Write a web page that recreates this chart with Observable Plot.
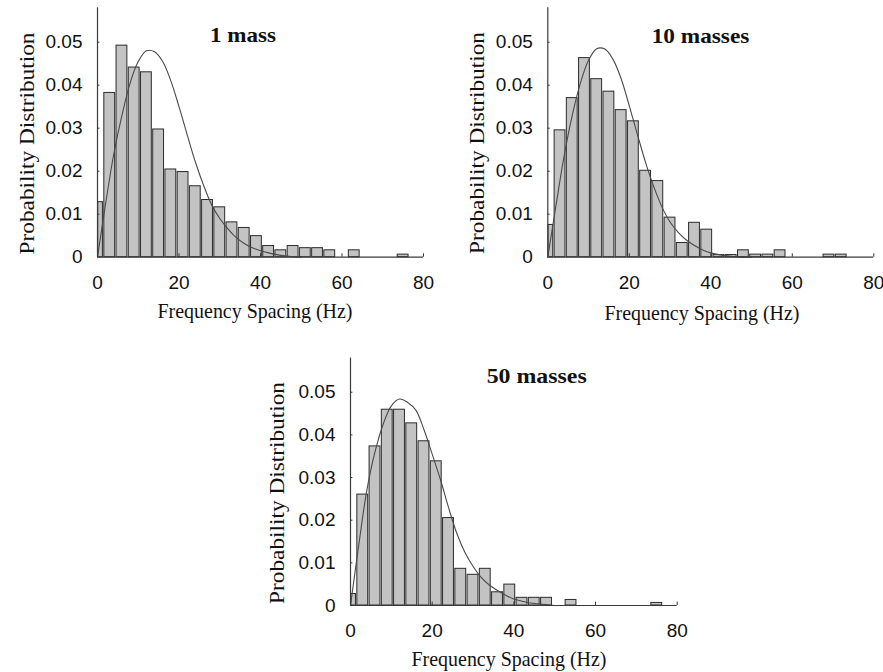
<!DOCTYPE html>
<html>
<head>
<meta charset="utf-8">
<script src="https://cdn.jsdelivr.net/npm/d3@7"></script>
<script src="https://cdn.jsdelivr.net/npm/@observablehq/plot@0.6"></script>
<style>
  html, body { margin: 0; padding: 0; background: #fff; }
  #wrap { position: relative; width: 883px; height: 672px; overflow: hidden; background: #fff; }
  .panel { position: absolute; }
  #overlay { position: absolute; left: 0; top: 0; pointer-events: none; }
</style>
</head>
<body>
<div id="wrap"></div>
<script>
// Bin centres (Hz), bin width 3 Hz
const binCenters = [0,3,6,9,12,15,18,21,24,27,30,33,36,39,42,45,48,51,54,57,60,63,66,69,72,75];

// Histogram probabilities per panel
const mass1 =   [0.0128,0.0382,0.0492,0.0441,0.0430,0.0297,0.0204,0.0198,0.0165,0.0133,0.0116,0.0081,0.0068,0.0049,0.0026,0.0016,0.0026,0.0021,0.0021,0.0016,0,0.0016,0,0,0,0.0006];
const masses10 = [0.0075,0.0295,0.0370,0.0463,0.0414,0.0385,0.0342,0.0316,0.0201,0.0177,0.0092,0.0033,0.0080,0.0064,0.0005,0.0005,0.0016,0.0006,0.0006,0.0016,0,0,0,0.0006,0.0006,0];
const masses50 = [0.0027,0.0260,0.0373,0.0459,0.0459,0.0427,0.0385,0.0338,0.0205,0.0086,0.0072,0.0086,0.0031,0.0049,0.0018,0.0018,0.0018,0,0.0013,0,0,0,0,0,0,0.0006];

// Fitted curve
const curveX = [0,2,4,6,8,10,12,14,16,18,20,22,24,26,28,30,32,34,36,38,40,42,44,46,48,50];
const curve1 =  [0,0.0125,0.0240,0.0330,0.0405,0.0455,0.0480,0.0478,0.0455,0.0410,0.0350,0.0285,0.0222,0.0168,0.0122,0.0090,0.0066,0.0046,0.0032,0.0022,0.0015,0.0010,0.0006,0.0003,0.0001,0];
const curve10 = [0,0.0120,0.0235,0.0330,0.0405,0.0458,0.0485,0.0484,0.0460,0.0415,0.0352,0.0285,0.0220,0.0164,0.0117,0.0082,0.0058,0.0040,0.0027,0.0017,0.0010,0.0006,0.0003,0.0001,0,0];
const curve50 = [0,0.0140,0.0270,0.0360,0.0425,0.0468,0.0484,0.0476,0.0458,0.0412,0.0355,0.0296,0.0230,0.0170,0.0125,0.0092,0.0066,0.0048,0.0035,0.0024,0.0015,0.0010,0.0006,0.0004,0.0002,0];

const panelTitles = ["1 mass", "10 masses", "50 masses"];
const xLabel = "Frequency Spacing (Hz)";
const yLabel = "Probability Distribution";
const xTicks = [0,20,40,60,80];
const yTicks = [0,0.01,0.02,0.03,0.04,0.05];
const binWidth = 3;

const sans = "'Liberation Sans', Arial, sans-serif";
const serif = "'Liberation Serif', 'Times New Roman', serif";

function panel(values, curve, box) {
  const bins = binCenters.map((c, i) => ({x1: Math.max(0, c - binWidth/2), x2: c + binWidth/2, y: values[i]})).filter(d => d.y > 0);
  const line = curveX.map((x, i) => ({x, y: curve[i]}));
  return Plot.plot({
    width: box.width,
    height: box.height,
    marginLeft: box.ml,
    marginRight: box.mr,
    marginTop: box.mt,
    marginBottom: box.mb,
    style: {fontFamily: sans, fontSize: "19px", color: "#111", background: "transparent", overflow: "visible"},
    x: {domain: [0, 80]},
    y: {domain: [0, 0.058]},
    marks: [
      Plot.rectY(bins, {x1: "x1", x2: "x2", y: "y", fill: "#c3c3c3", stroke: "#2b2b2b", strokeWidth: 1, insetLeft: 0.7, insetRight: 0.7}),
      Plot.line(line, {x: "x", y: "y", stroke: "#4a4a4a", strokeWidth: 1.1, curve: "catmull-rom"}),
      Plot.ruleX([0], {y1: 0, y2: 0.058, stroke: "#3a3a3a", strokeWidth: 1.2}),
      Plot.ruleY([0], {x1: 0, x2: 80, stroke: "#3a3a3a", strokeWidth: 1.2}),
      Plot.ruleY(yTicks.slice(1), {x1: 0, x2: 0.6, stroke: "#3a3a3a"}),
      Plot.ruleX(xTicks.slice(1), {y1: 0, y2: 0.0008, stroke: "#3a3a3a"}),
      Plot.axisY({ticks: yTicks, tickSize: 0, tickPadding: 15, label: null, tickFormat: d => d === 0 ? "0" : d.toFixed(2)}),
      Plot.axisX({ticks: xTicks, tickSize: 0, tickPadding: 18, label: null, tickFormat: d => String(d)})
    ]
  });
}

const wrap = document.getElementById("wrap");
const boxes = [
  {left: 0,   top: 0,   width: 445, height: 330, ml: 97,   mr: 22,   mt: 7.3,  mb: 73.3},
  {left: 450, top: 0,   width: 433, height: 330, ml: 97.3, mr: 9.7,  mt: 7.3,  mb: 73.3},
  {left: 253, top: 340, width: 440, height: 332, ml: 97,   mr: 16.3, mt: 17.6, mb: 67}
];
const series = [[mass1, curve1], [masses10, curve10], [masses50, curve50]];
series.forEach(([v, c], i) => {
  const b = boxes[i];
  const el = panel(v, c, b);
  el.classList.add("panel");
  el.style.left = b.left + "px";
  el.style.top = b.top + "px";
  wrap.appendChild(el);
});

// Titles and axis labels
const svg = d3.select(wrap).append("svg").attr("id", "overlay").attr("width", 883).attr("height", 672);
const titlePos = [{x: 243, y: 42.3, len: 66}, {x: 700.5, y: 43, len: 97.6}, {x: 536.7, y: 382.7, len: 100}];
const yTitlePos = [{x: 26.7, y: 143.5}, {x: 476.7, y: 143}, {x: 276.7, y: 493}];
const xTitlePos = [{x: 255, y: 318}, {x: 702, y: 320}, {x: 509, y: 666}];
panelTitles.forEach((t, i) => {
  svg.append("text").text(t)
    .attr("x", titlePos[i].x).attr("y", titlePos[i].y)
    .attr("text-anchor", "middle")
    .attr("font-family", serif).attr("font-weight", "bold").attr("font-size", 22)
    .attr("textLength", titlePos[i].len).attr("lengthAdjust", "spacingAndGlyphs")
    .attr("fill", "#111");
  svg.append("text").text(yLabel)
    .attr("transform", `translate(${yTitlePos[i].x},${yTitlePos[i].y}) rotate(-90)`)
    .attr("text-anchor", "middle").attr("dominant-baseline", "central")
    .attr("font-family", serif).attr("font-size", 20)
    .attr("textLength", 222).attr("lengthAdjust", "spacingAndGlyphs")
    .attr("fill", "#111");
  svg.append("text").text(xLabel)
    .attr("x", xTitlePos[i].x).attr("y", xTitlePos[i].y)
    .attr("text-anchor", "middle")
    .attr("font-family", serif).attr("font-size", 21)
    .attr("textLength", 195).attr("lengthAdjust", "spacingAndGlyphs")
    .attr("fill", "#111");
});
</script>
</body>
</html>
